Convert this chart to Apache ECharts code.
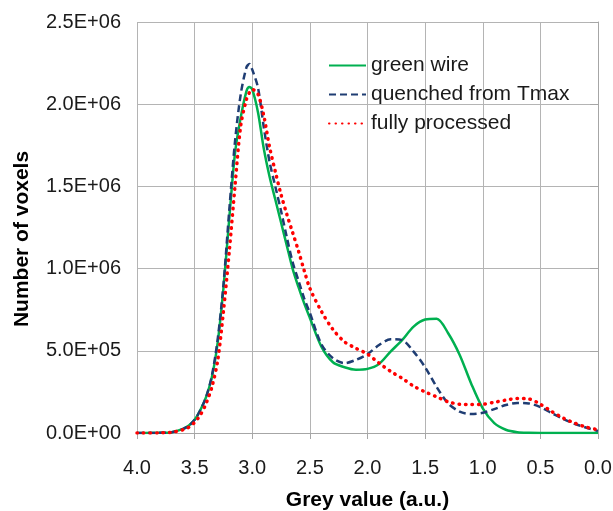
<!DOCTYPE html>
<html>
<head>
<meta charset="utf-8">
<script src="https://cdn.jsdelivr.net/npm/echarts@6/dist/echarts.min.js"></script>
<style>html,body{margin:0;padding:0;background:#fff}#c{width:613px;height:511px}</style>
</head>
<body>
<div id="c"></div>
<script>
var greyValues = [4.0, 3.8, 3.7, 3.6, 3.55, 3.5, 3.45, 3.4, 3.35, 3.3, 3.25, 3.2, 3.15, 3.1, 3.05, 3.025, 3.0, 2.95, 2.9, 2.85, 2.8, 2.75, 2.7, 2.65, 2.6, 2.55, 2.5, 2.4, 2.3, 2.2, 2.1, 2.0, 1.9, 1.8, 1.7, 1.6, 1.5, 1.4, 1.3, 1.2, 1.1, 1.0, 0.9, 0.8, 0.7, 0.6, 0.5, 0.4, 0.3, 0.2, 0.1, 0.0];
var greenWire = [0, 1e3, 5e3, 25e3, 45e3, 80e3, 140e3, 220e3, 340e3, 550e3, 880e3, 1.30e6, 1.70e6, 1.92e6, 2.08e6, 2.105e6, 2.09e6, 1.95e6, 1.73e6, 1.56e6, 1.42e6, 1.28e6, 1.14e6, 1.0e6, 0.89e6, 0.79e6, 0.70e6, 0.525e6, 0.43e6, 0.40e6, 0.385e6, 0.39e6, 0.42e6, 0.495e6, 0.565e6, 0.647e6, 0.69e6, 0.695e6, 0.607e6, 0.475e6, 0.30e6, 0.15e6, 0.06e6, 0.02e6, 5e3, 1e3, 0, 0, 0, 0, 0, 0];
var quenched = [0, 1e3, 5e3, 25e3, 45e3, 80e3, 140e3, 220e3, 350e3, 570e3, 900e3, 1.35e6, 1.77e6, 2.06e6, 2.225e6, 2.245e6, 2.21e6, 2.10e6, 1.86e6, 1.65e6, 1.50e6, 1.35e6, 1.19e6, 1.04e6, 0.93e6, 0.82e6, 0.73e6, 0.54e6, 0.455e6, 0.425e6, 0.445e6, 0.48e6, 0.535e6, 0.57e6, 0.565e6, 0.495e6, 0.40e6, 0.28e6, 0.18e6, 0.13e6, 0.115e6, 0.123e6, 0.145e6, 0.17e6, 0.183e6, 0.18e6, 0.157e6, 0.12e6, 0.085e6, 0.055e6, 0.032e6, 0.012e6];
var fullyProcessed = [0, 1e3, 4e3, 20e3, 35e3, 65e3, 110e3, 180e3, 280e3, 440e3, 740e3, 1.10e6, 1.50e6, 1.87e6, 2.03e6, 2.07e6, 2.09e6, 2.06e6, 1.93e6, 1.74e6, 1.59e6, 1.45e6, 1.33e6, 1.22e6, 1.11e6, 0.99e6, 0.88e6, 0.74e6, 0.63e6, 0.555e6, 0.515e6, 0.48e6, 0.425e6, 0.375e6, 0.333e6, 0.285e6, 0.25e6, 0.22e6, 0.19e6, 0.175e6, 0.173e6, 0.175e6, 0.187e6, 0.20e6, 0.21e6, 0.207e6, 0.175e6, 0.13e6, 0.09e6, 0.06e6, 0.035e6, 0.02e6];
var seriesNames = ['green wire', 'quenched from Tmax', 'fully processed'];
var xTickMin = 0, xTickMax = 4, xTickStep = 0.5;
var yTickMin = 0, yTickMax = 2.5e6, yTickStep = 5e5;
var xTitle = 'Grey value (a.u.)';
var yTitle = 'Number of voxels';

function pairs(ys) { return greyValues.map(function (x, i) { return [x, ys[i]]; }); }
function sci(v) {
  var s = v.toExponential(1).toUpperCase();
  return s.replace(/E([+-])(\d)$/, 'E$10$2');
}
var FONT = 'Liberation Sans';
var chart = echarts.init(document.getElementById('c'), null, {renderer: 'canvas'});
chart.setOption({
  animation: false,
  backgroundColor: '#fff',
  textStyle: {fontFamily: FONT},
  grid: {left: 137, right: 15, top: 22, bottom: 78, containLabel: false, outerBoundsMode: 'none'},
  legend: {
    orient: 'vertical', left: 328, top: 55, padding: 0,
    itemWidth: 37, itemHeight: 14, itemGap: 8,
    itemStyle: {opacity: 0},
    textStyle: {fontFamily: FONT, fontSize: 21, color: '#1a1a1a'},
    data: seriesNames
  },
  graphic: [{
    type: 'text', x: 22, y: 239, rotation: Math.PI / 2,
    style: {text: yTitle, font: 'bold 21px "Liberation Sans"', fill: '#000', textAlign: 'center', textVerticalAlign: 'middle'}
  }],
  xAxis: {
    type: 'value', inverse: true, min: xTickMin, max: xTickMax, interval: xTickStep,
    name: xTitle, nameLocation: 'middle', nameGap: 57,
    nameTextStyle: {fontFamily: FONT, fontSize: 21, fontWeight: 'bold', color: '#000'},
    axisLine: {show: true, lineStyle: {color: '#a6a6a6', width: 1}},
    axisTick: {show: true, length: 6, lineStyle: {color: '#a6a6a6'}},
    axisLabel: {fontFamily: FONT, fontSize: 20, color: '#1a1a1a', margin: 25, formatter: function (v) { return v.toFixed(1); }},
    splitLine: {show: true, lineStyle: {color: '#b4b4b4', width: 1}}
  },
  yAxis: {
    type: 'value', min: yTickMin, max: yTickMax, interval: yTickStep,
    axisLine: {show: true, lineStyle: {color: '#a6a6a6', width: 1}},
    axisTick: {show: true, length: 8, lineStyle: {color: '#a6a6a6'}},
    axisLabel: {fontFamily: FONT, fontSize: 20, color: '#1a1a1a', margin: 16, formatter: sci},
    splitLine: {show: true, lineStyle: {color: '#b4b4b4', width: 1}}
  },
  series: [
    {name: seriesNames[0], type: 'line', data: pairs(greenWire), smooth: 0.3, symbol: 'none',
     lineStyle: {color: '#00b050', width: 2.5}, itemStyle: {color: '#00b050'}},
    {name: seriesNames[1], type: 'line', data: pairs(quenched), smooth: 0.3, symbol: 'none',
     lineStyle: {color: '#1f3d73', width: 2.5, type: [7, 4]}, itemStyle: {color: '#1f3d73'}},
    {name: seriesNames[2], type: 'line', data: pairs(fullyProcessed), smooth: 0.3, symbol: 'none',
     lineStyle: {color: '#ff0000', width: 3.5, type: [0.5, 6], cap: 'round'}, itemStyle: {color: '#ff0000'}}
  ]
});
</script>
</body>
</html>
